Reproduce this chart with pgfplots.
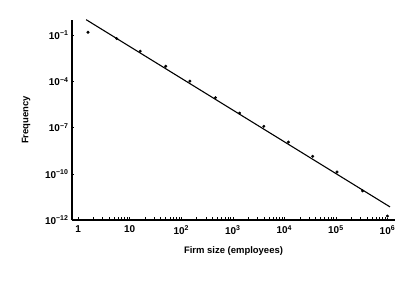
\documentclass[border=0pt]{standalone}
\usepackage{fontspec}
\setmainfont{Liberation Sans}
\usepackage{pgfplots}
\pgfplotsset{compat=1.18}
\begin{document}
\begin{tikzpicture}
\path[use as bounding box] (-72bp,-66bp) rectangle (343bp,220bp);
\begin{axis}[
  at={(0,0)}, anchor=south west,
  scale only axis, width=323bp, height=200bp,
  xmode=log, ymode=log,
  xmin=0.76, xmax=1.4e6,
  ymin=1e-13, ymax=1,
  axis lines=left,
  axis line style={line width=1.4pt,-},
  xtick={1,10,100,1000,10000,100000,1000000},
  xticklabels={1,10,10\textsuperscript{2},10\textsuperscript{3},10\textsuperscript{4},10\textsuperscript{5},10\textsuperscript{6}},
  ytick={1e-1,1e-4,1e-7,1e-10,1e-13},
  yticklabels={10\textsuperscript{−1},10\textsuperscript{−4},10\textsuperscript{−7},10\textsuperscript{−10},10\textsuperscript{−12}},
  minor tick num=0,
  tick align=inside,
  major tick length=2.5bp,
  tick style={line width=0.6pt,black},
  ticklabel style={font=\fontsize{10}{11}\selectfont\bfseries},
  xticklabel style={yshift=-2bp},
  xlabel={Firm size (employees)},
  ylabel={Frequency},
  label style={font=\fontsize{9.5}{10}\selectfont\bfseries},
  xlabel style={yshift=-6bp},
  ylabel style={yshift=8bp},
  clip=false,
]
\addplot[only marks, mark=*, mark size=1.3bp, black] coordinates {
(1.55,0.16)
(5.6,0.062)
(16,0.0095)
(50,0.00098)
(147,0.000107)
(460,8.9e-6)
(1350,8.9e-7)
(4000,1.23e-7)
(12000,1.17e-8)
(35500,1.38e-9)
(105000,1.32e-10)
(330000,7.8e-12)
(1000000,1.8e-13)
};
\addplot[black, line width=1.1pt] coordinates {(1.43,1.05) (1.12e6,7.1e-13)};
\end{axis}
\end{tikzpicture}
\end{document}
